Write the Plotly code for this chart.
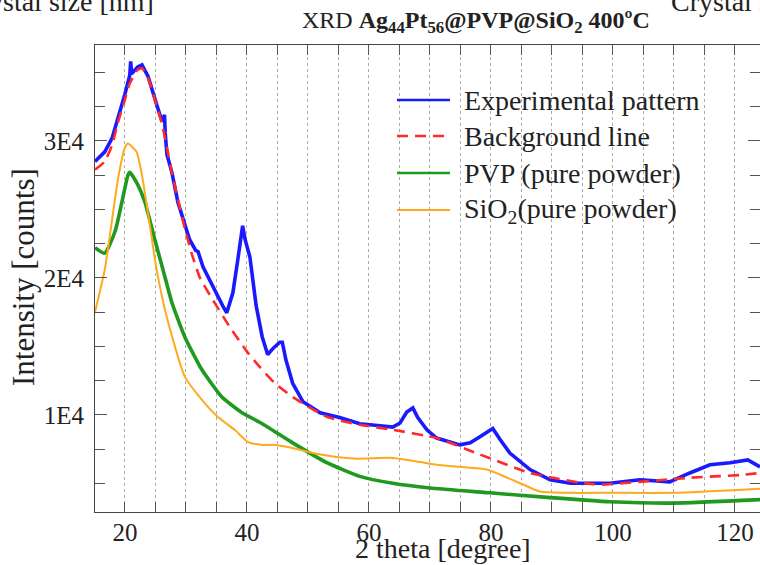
import plotly.graph_objects as go

# ---- data ----
exp_x = [15.1, 16.7, 17.9, 18.9, 20.0, 20.8, 20.95, 21.1, 22.1, 22.8, 23.8, 24.9, 26.1, 26.5, 26.6, 26.9,
         27.7, 28.7, 29.8, 30.6, 31.6, 32.0, 32.8, 34.4, 36.1, 36.7, 37.7, 38.5, 39.3, 39.7, 40.5,
         41.5, 42.5, 43.4, 44.4, 45.4, 45.8, 46.4, 47.5, 49.2, 52.0, 55.2, 58.5, 60.2, 63.9, 65.1,
         66.2, 67.2, 68.0, 69.5, 71.1, 74.9, 76.6, 78.2, 80.3, 81.5, 83.1, 86.4, 89.7, 93.0, 99.5,
         104.4, 109.3, 112.6, 115.9, 119.2, 122.1, 124.1]
exp_y = [28500, 29200, 30200, 31700, 33400, 34800, 35800, 34900, 35400, 35550, 34700, 33100, 31400, 31900, 30600, 29000,
         27700, 25500, 23900, 22800, 22000, 21900, 20800, 19350, 17900, 17450, 18900, 21300, 23800, 22800, 21500,
         18000, 15700, 14400, 14900, 15300, 15300, 14000, 12300, 10950, 10150, 9800, 9350, 9270, 9100, 9400,
         10200, 10500, 9800, 8900, 8300, 7800, 7950, 8400, 9000, 8200, 7200, 6000, 5250, 5000, 5000,
         5250, 5100, 5750, 6350, 6500, 6700, 6200]

bg_x = [15.1, 16.7, 17.9, 18.9, 20.0, 20.8, 22.1, 22.8, 23.8, 24.9, 26.1, 27.7, 28.7, 29.8, 31.0, 32.3,
        34.4, 37.2, 40.2, 42.1, 44.6, 47.5, 53.1, 58.5, 63.9, 71.1, 78.2, 86.4, 94.6, 97.9, 104.4,
        112.6, 120.8, 124.1]
bg_y = [27900, 28500, 29700, 31400, 33000, 34200, 35200, 35300, 34600, 33000, 31200, 27700, 25700, 23650, 21700, 20000,
        18400, 16400, 14500, 13500, 12300, 11300, 9850, 9270, 8900, 8300, 7100, 5750, 5050, 4900, 5100,
        5400, 5600, 5750]

pvp_x = [15.1, 16.7, 18.4, 19.5, 20.5, 20.8, 22.1, 23.3, 24.9, 26.6, 27.7, 29.8, 32.6, 35.9, 39.2,
         42.1, 47.5, 53.1, 58.5, 63.9, 70.0, 79.8, 89.7, 99.5, 109.9, 124.1]
pvp_y = [22200, 21800, 23400, 25500, 27500, 27700, 26800, 25500, 22800, 20000, 18200, 15700, 13300, 11300, 10150,
         9450, 7950, 6500, 5500, 5000, 4650, 4300, 3950, 3650, 3550, 3800]

sio2_x = [15.1, 16.7, 18.9, 20.0, 20.5, 21.9, 22.8, 23.9, 25.2, 27.0, 29.8, 32.6, 35.2, 38.0, 40.2,
          42.5, 44.6, 46.7, 52.1, 57.5, 63.9, 68.4, 71.1, 74.9, 79.3, 84.8, 88.0, 93.0, 99.5, 109.9, 124.1]
sio2_y = [17500, 20600, 27300, 29500, 29800, 29200, 27500, 24400, 20600, 16900, 12800, 11100, 9850, 8900, 8000,
          7800, 7800, 7650, 7100, 6800, 6850, 6550, 6350, 6200, 6000, 5000, 4400, 4300, 4300, 4300, 4600]

y_tickvals = [10000, 20000, 30000]
y_ticktext = ["1E4", "2E4", "3E4"]

FONT = "Liberation Serif"
TXT = "#222222"

# series styles (draw order: PVP, SiO2, experimental, background)
series = [
    dict(x=pvp_x, y=pvp_y, name="PVP (pure powder)", color="#1f9a1f", width=3.6, dash="solid", shape="spline"),
    dict(x=sio2_x, y=sio2_y, name="SiO<sub>2</sub>(pure powder)", color="#ffaa1e", width=2, dash="solid", shape="spline"),
    dict(x=exp_x, y=exp_y, name="Experimental pattern", color="#1a1aff", width=3.6, dash="solid", shape="linear"),
    dict(x=bg_x, y=bg_y, name="Background line", color="#ff2a2a", width=2.6, dash="11px,7px", shape="spline"),
]
legend_order = [2, 3, 0, 1]

fig = go.Figure()
for s in series:
    fig.add_trace(go.Scatter(x=s["x"], y=s["y"], mode="lines", name=s["name"], showlegend=False,
                             line=dict(color=s["color"], width=s["width"], dash=s["dash"],
                                       shape=s["shape"], smoothing=0.5)))

# plot-area pixel geometry used for the hand-drawn legend
L, T, W, H = 95, 45, 665, 467
def px(xp):
    return (xp - L) / W
def py(yp):
    return (T + H - yp) / H

shapes = [dict(type="rect", xref="paper", yref="paper", x0=px(385), x1=px(735), y0=py(230), y1=py(78),
               fillcolor="white", line=dict(width=0), layer="below")]
annotations = []
row_y = [100, 136, 173, 210]
for k, idx in enumerate(legend_order):
    s = series[idx]
    shapes.append(dict(type="line", xref="paper", yref="paper", x0=px(397), x1=px(450),
                       y0=py(row_y[k]), y1=py(row_y[k]),
                       line=dict(color=s["color"], width=2.6 if s["width"] > 2 else 2.2, dash=s["dash"]),
                       layer="above"))
    annotations.append(dict(text=s["name"], xref="paper", yref="paper", x=px(462), y=py(row_y[k]),
                            xanchor="left", yanchor="middle", showarrow=False,
                            font=dict(size=28, family=FONT, color=TXT)))

fig.update_layout(
    width=760, height=565,
    margin=dict(l=L, r=0, t=T, b=565 - T - H),
    paper_bgcolor="white", plot_bgcolor="white",
    font=dict(family=FONT, size=20, color=TXT),
    showlegend=False,
    shapes=shapes,
    xaxis=dict(range=[15.1, 124.1], tick0=0, dtick=20, ticks="inside", ticklen=10,
               tickcolor="#555", showline=True, linecolor="#444", linewidth=1, mirror="ticks",
               showgrid=True, gridcolor="#aaaaaa", griddash="dot", gridwidth=1,
               zeroline=False, tickfont=dict(size=25, family=FONT, color=TXT), ticklabelstandoff=-2,
               minor=dict(dtick=5, tick0=0, ticks="inside", ticklen=10, tickcolor="#555",
                          showgrid=True, gridcolor="#aaaaaa", griddash="dot", gridwidth=1)),
    yaxis=dict(range=[2900, 37000], tickvals=y_tickvals, ticktext=y_ticktext, ticks="inside",
               ticklen=12, tickcolor="#555", showline=True, linecolor="#444", linewidth=1,
               mirror="ticks", showgrid=False, zeroline=False, ticklabelstandoff=5,
               tickfont=dict(size=25, family=FONT, color=TXT),
               minor=dict(dtick=2500, tick0=0, ticks="inside", ticklen=10, tickcolor="#555", showgrid=False)),
)

for a in annotations:
    fig.add_annotation(**a)

fig.add_annotation(text="Intensity [counts]", xref="paper", yref="paper", x=px(23), y=py(277),
                   xanchor="center", yanchor="middle", textangle=-90, showarrow=False,
                   font=dict(size=31, family=FONT, color=TXT))
fig.add_annotation(text="2 theta [degree]", xref="paper", yref="paper", x=px(443), y=py(548),
                   xanchor="center", yanchor="middle", showarrow=False,
                   font=dict(size=28, family=FONT, color=TXT))
fig.add_annotation(text="XRD <b>Ag<sub>44</sub>Pt<sub>56</sub>@PVP@SiO<sub>2</sub> 400ºC</b>",
                   xref="paper", yref="paper", x=px(476), y=py(22),
                   xanchor="center", yanchor="middle", showarrow=False,
                   font=dict(size=24, family=FONT, color=TXT))
fig.add_annotation(text="Crystal size [nm]", xref="paper", yref="paper", x=px(156), y=py(2),
                   xanchor="right", yanchor="middle", showarrow=False,
                   font=dict(size=28, family=FONT, color=TXT))
fig.add_annotation(text="Crystal size [nm]", xref="paper", yref="paper", x=px(669), y=py(2),
                   xanchor="left", yanchor="middle", showarrow=False,
                   font=dict(size=28, family=FONT, color=TXT))

fig.write_html("out.html")
